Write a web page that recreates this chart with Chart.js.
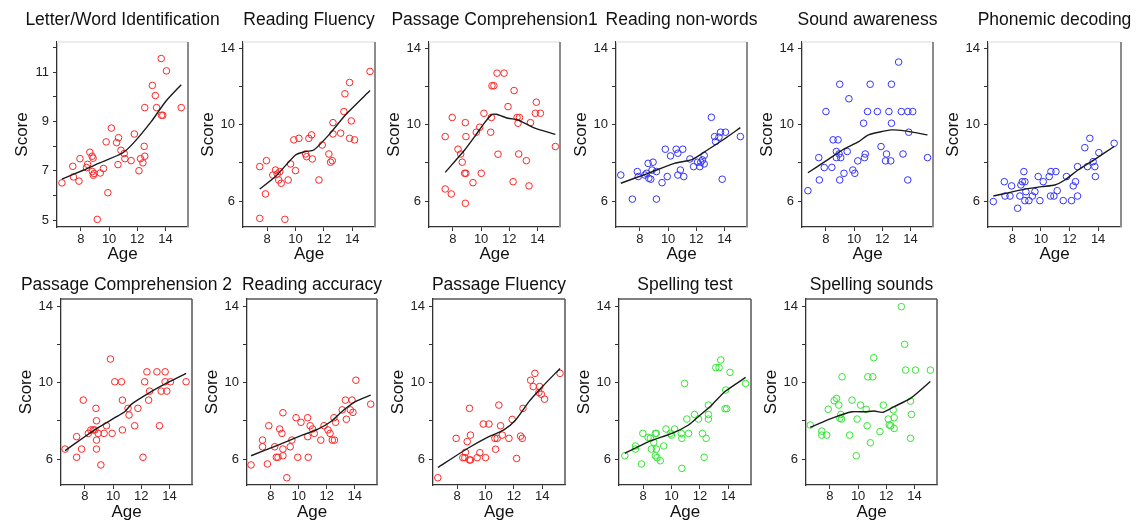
<!DOCTYPE html>
<html>
<head>
<meta charset="utf-8">
<script src="https://cdn.jsdelivr.net/npm/chart.js@4.4.1/dist/chart.umd.min.js"></script>
<style>
  html, body { margin: 0; padding: 0; background: #fff; }
  body { position: relative; width: 1139px; height: 524px; overflow: hidden; }
  .panel { position: absolute; }
</style>
</head>
<body>
<script>
// ---- tick values ----
const ageTicks = [8, 10, 12, 14];
const scoreTicks = [6, 8, 10, 12, 14];
const scoreTickLabels = [6, 10, 14];
const letterWordTicks = [5, 6, 7, 8, 9, 10, 11, 12];
const letterWordTickLabels = [5, 7, 9, 11];

const panelTitles = [
  'Letter/Word Identification', 'Reading Fluency', 'Passage Comprehension1',
  'Reading non-words', 'Sound awareness', 'Phonemic decoding',
  'Passage Comprehension 2', 'Reading accuracy', 'Passage Fluency',
  'Spelling test', 'Spelling sounds'
];

// ---- observations [age, score] and smoothed trend [age, score] ----
const letterWordPts = [[6.65,6.51],[7.42,7.18],[7.47,6.75],[7.86,6.58],[7.93,7.49],[8.40,7.13],[8.47,7.26],[8.63,7.75],[8.79,7.59],[8.86,7.51],[8.81,6.97],[8.93,6.89],[8.88,6.82],[9.16,5.03],[9.37,6.91],[9.60,7.09],[9.79,8.17],[9.91,6.11],[10.16,8.73],[10.53,8.14],[10.67,8.34],[10.63,7.25],[10.84,7.83],[11.07,7.70],[11.12,7.49],[11.56,7.41],[11.79,8.49],[12.12,7.00],[12.23,7.49],[12.40,7.32],[12.49,7.99],[12.53,7.59],[12.53,9.56],[13.07,10.46],[13.28,10.05],[13.37,9.56],[13.70,11.55],[13.72,9.25],[13.81,9.25],[14.07,11.05],[15.12,9.56]];
const letterWordFit = [[6.65,6.66],[8.16,7.02],[9.33,7.32],[10.95,7.72],[11.77,8.15],[13.0,9.0],[14.0,9.8],[15.12,10.49]];

const readingFluencyPts = [[7.48,7.80],[7.48,5.09],[7.88,6.37],[7.95,8.11],[8.40,7.36],[8.59,7.62],[8.71,7.41],[8.89,7.54],[8.82,7.10],[8.99,6.93],[9.25,5.04],[9.48,7.10],[9.65,7.94],[10.00,7.59],[9.88,9.20],[10.24,9.28],[10.71,8.46],[10.78,8.32],[10.94,9.28],[11.13,9.46],[11.18,8.20],[11.65,7.10],[11.88,8.93],[12.35,8.46],[12.47,8.03],[12.59,8.11],[12.64,10.10],[12.64,9.51],[13.18,9.55],[13.41,10.68],[13.48,11.61],[13.81,12.20],[13.81,9.28],[13.93,10.19],[14.16,9.20],[15.25,12.78]];
const readingFluencyFit = [[7.48,6.63],[8.59,7.28],[10.0,8.41],[10.71,8.59],[11.29,8.67],[12.35,9.46],[13.53,10.51],[15.25,11.78]];

const passageComp1Pts = [[7.45,9.37],[7.45,6.63],[7.88,6.37],[7.95,10.37],[8.36,8.71],[8.55,8.46],[8.66,8.03],[8.83,7.45],[8.92,7.45],[8.88,10.10],[8.92,9.37],[8.88,5.88],[9.42,6.96],[9.66,9.60],[9.90,9.86],[10.01,7.45],[10.20,10.59],[10.68,9.60],[10.73,10.37],[10.77,12.03],[10.91,12.03],[11.13,12.69],[11.20,8.45],[11.63,12.69],[11.91,10.94],[12.27,7.01],[12.34,11.78],[12.55,10.37],[12.62,10.07],[12.67,8.46],[12.72,10.37],[13.21,8.11],[13.40,6.79],[13.50,10.10],[13.85,10.59],[13.92,11.17],[14.21,10.59],[15.27,8.85]];
const passageComp1Fit = [[7.45,7.50],[8.83,8.67],[9.54,9.37],[10.25,10.10],[10.73,10.51],[11.08,10.54],[11.91,10.33],[12.62,10.24],[13.81,9.81],[15.27,9.49]];

const nonWordsPts = [[6.64,7.36],[7.46,6.10],[7.81,7.54],[7.88,7.28],[8.35,7.36],[8.47,7.45],[8.58,7.97],[8.63,7.19],[8.77,7.14],[8.86,7.62],[8.93,8.03],[9.17,7.54],[9.17,6.10],[9.57,6.96],[9.80,8.71],[9.94,7.28],[10.17,8.36],[10.57,8.71],[10.69,8.50],[10.69,7.36],[10.87,7.62],[11.04,8.71],[11.11,7.28],[11.55,8.20],[11.81,7.80],[12.09,8.03],[12.25,7.80],[12.32,8.03],[12.44,8.15],[12.56,8.38],[12.56,7.94],[13.07,10.38],[13.30,9.37],[13.37,9.11],[13.61,9.34],[13.72,9.60],[13.84,7.14],[14.07,9.60],[15.13,9.37]];
const nonWordsFit = [[6.64,6.93],[8.58,7.45],[10.45,7.97],[11.74,8.18],[12.79,8.67],[13.96,9.23],[15.13,9.84]];

const soundAwarePts = [[6.72,6.54],[7.49,8.27],[7.53,7.10],[7.88,7.75],[8.00,10.68],[8.42,7.76],[8.51,9.20],[8.74,8.59],[8.86,9.20],[8.74,8.27],[8.98,12.11],[8.98,7.10],[8.93,8.46],[9.05,8.27],[9.28,7.45],[9.51,8.59],[9.63,11.35],[9.91,7.62],[10.05,7.45],[10.26,8.10],[10.67,10.07],[10.74,8.27],[10.79,8.46],[10.95,10.68],[11.14,12.11],[11.65,10.68],[11.91,8.85],[12.30,8.46],[12.23,8.10],[12.47,10.68],[12.60,8.10],[12.65,10.07],[12.65,12.11],[13.16,13.27],[13.35,10.68],[13.47,8.46],[13.81,10.68],[13.81,7.10],[13.88,9.60],[14.16,10.68],[15.21,8.27]];
const soundAwareFit = [[6.72,7.48],[8.0,8.10],[9.16,8.67],[10.33,9.11],[11.02,9.46],[12.65,9.72],[13.58,9.67],[15.21,9.46]];

const phonemicPts = [[6.67,5.97],[7.44,7.01],[7.49,6.26],[7.84,6.26],[7.95,6.79],[8.37,5.62],[8.53,6.26],[8.60,6.84],[8.70,7.01],[8.81,7.54],[8.88,7.01],[8.88,6.02],[8.95,6.49],[9.16,6.02],[9.40,6.26],[9.58,6.49],[9.81,7.28],[9.93,6.02],[10.16,7.01],[10.58,7.28],[10.70,7.54],[10.67,6.26],[10.91,6.26],[11.05,7.54],[11.14,6.54],[11.56,6.02],[11.79,7.28],[12.14,6.02],[12.26,6.79],[12.42,7.01],[12.56,6.26],[12.56,7.80],[13.07,8.79],[13.26,7.80],[13.42,9.28],[13.65,8.06],[13.77,7.80],[13.81,7.28],[14.05,8.53],[15.12,9.02]];
const phonemicFit = [[6.67,6.26],[8.65,6.58],[10.05,6.75],[10.98,6.84],[11.67,7.10],[12.60,7.62],[13.77,8.18],[15.12,8.85]];

const passageComp2Pts = [[6.59,6.52],[7.41,7.17],[7.41,6.09],[7.76,6.52],[7.88,9.08],[8.24,7.34],[8.42,7.52],[8.59,7.52],[8.71,7.52],[8.78,8.65],[8.82,8.00],[8.82,6.99],[8.82,6.52],[8.94,7.34],[9.13,5.69],[9.36,7.34],[9.53,7.74],[9.81,11.23],[9.93,7.34],[10.12,10.04],[10.59,10.04],[10.66,9.08],[10.66,7.52],[11.06,8.65],[11.13,8.30],[11.53,7.74],[11.76,8.65],[12.12,6.09],[12.24,10.04],[12.40,10.56],[12.52,9.08],[12.59,9.55],[13.11,10.56],[13.29,7.74],[13.41,9.55],[13.69,10.56],[13.69,10.04],[13.81,9.55],[14.07,10.04],[15.18,10.04]];
const passageComp2Fit = [[6.59,6.44],[7.88,7.11],[8.94,7.64],[10.12,8.16],[10.82,8.47],[11.29,8.86],[12.59,9.47],[13.76,9.95],[15.18,10.48]];

const readingAccPts = [[6.59,5.69],[7.41,6.99],[7.41,6.64],[7.76,5.74],[7.86,7.74],[8.28,6.64],[8.40,6.09],[8.52,6.09],[8.64,7.57],[8.80,7.34],[8.87,8.42],[8.87,6.52],[8.87,6.17],[9.15,5.02],[9.39,6.64],[9.51,6.99],[9.81,8.16],[9.93,6.09],[10.16,7.92],[10.64,8.16],[10.64,7.17],[10.68,6.09],[10.82,7.74],[10.99,7.57],[11.11,7.34],[11.58,6.99],[11.81,7.74],[12.09,7.52],[12.24,7.34],[12.40,6.99],[12.52,8.16],[12.56,6.99],[12.64,7.92],[13.11,8.57],[13.34,9.08],[13.41,8.08],[13.69,8.57],[13.81,9.08],[13.88,8.44],[14.09,10.12],[15.15,8.87]];
const readingAccFit = [[6.59,6.17],[8.52,6.73],[10.16,7.22],[11.34,7.55],[12.28,7.95],[13.22,8.56],[14.05,9.0],[15.15,9.34]];

const passageFluencyPts = [[6.64,5.02],[7.93,7.08],[8.40,6.07],[8.54,6.07],[8.59,6.35],[8.71,6.91],[8.87,8.65],[8.87,5.95],[8.94,7.25],[8.94,5.95],[9.41,6.07],[9.60,6.33],[9.84,7.83],[10.00,6.07],[10.24,7.83],[10.66,7.08],[10.71,6.51],[10.82,7.08],[10.94,8.82],[11.06,7.74],[11.18,7.25],[11.65,7.08],[11.88,8.07],[12.19,6.03],[12.47,7.20],[12.59,7.08],[12.64,8.65],[13.18,10.12],[13.36,9.79],[13.48,10.48],[13.81,9.79],[13.76,9.48],[13.93,9.39],[14.16,9.13],[15.25,10.48]];
const passageFluencyFit = [[6.64,5.56],[8.82,6.59],[10.0,7.08],[11.29,7.52],[12.12,8.04],[13.06,9.0],[14.0,9.78],[15.25,10.74]];

const spellingTestPts = [[6.71,6.17],[7.46,6.68],[7.46,6.52],[7.88,5.74],[7.98,7.34],[8.35,7.13],[8.51,7.08],[8.58,6.52],[8.75,6.87],[8.86,7.34],[8.93,7.34],[8.86,6.17],[8.93,6.52],[8.98,6.07],[9.21,5.91],[9.45,6.68],[9.61,7.57],[9.92,7.34],[9.99,7.25],[10.22,7.57],[10.69,7.34],[10.73,7.08],[10.73,5.51],[10.92,9.95],[11.08,8.09],[11.20,7.34],[11.62,8.33],[11.90,8.09],[12.18,7.34],[12.30,6.09],[12.44,7.08],[12.60,8.33],[12.60,8.82],[12.60,8.09],[13.12,10.78],[13.35,10.78],[13.47,11.18],[13.77,8.63],[13.89,8.63],[13.82,9.61],[14.12,10.53],[15.22,9.95]];
const spellingTestFit = [[6.71,6.30],[8.40,6.91],[10.03,7.34],[11.20,7.78],[11.90,8.22],[12.84,8.83],[13.77,9.53],[15.22,10.27]];

const spellingSoundsPts = [[6.60,7.78],[7.42,7.46],[7.42,7.25],[7.77,7.25],[7.88,8.60],[8.30,9.05],[8.47,9.17],[8.63,8.82],[8.70,8.13],[8.77,8.33],[8.82,8.09],[8.86,10.30],[9.40,7.25],[9.57,9.08],[9.87,6.17],[9.93,8.09],[10.17,8.82],[10.57,8.60],[10.64,7.74],[10.69,10.30],[10.87,6.85],[11.04,10.30],[11.11,11.30],[11.55,7.43],[11.79,8.82],[12.14,8.09],[12.21,7.78],[12.32,7.74],[12.49,8.57],[12.56,8.16],[12.56,7.60],[13.07,13.97],[13.30,12.00],[13.37,10.65],[13.72,7.08],[13.72,9.03],[13.79,8.33],[14.07,10.65],[15.13,10.65]];
const spellingSoundsFit = [[6.60,7.66],[8.12,8.13],[9.57,8.47],[10.45,8.47],[11.15,8.51],[11.74,8.44],[12.56,8.74],[13.72,9.17],[15.13,10.05]];

// ---- which series goes in which panel ----
const panelSeries = [
  [letterWordPts, letterWordFit], [readingFluencyPts, readingFluencyFit], [passageComp1Pts, passageComp1Fit],
  [nonWordsPts, nonWordsFit], [soundAwarePts, soundAwareFit], [phonemicPts, phonemicFit],
  [passageComp2Pts, passageComp2Fit], [readingAccPts, readingAccFit], [passageFluencyPts, passageFluencyFit],
  [spellingTestPts, spellingTestFit], [spellingSoundsPts, spellingSoundsFit]
];

// ---- page layout (plot-area edges in page pixels) ----
const panelLayout = [
  { row: 0, left: 57,  right: 188, color: '#ff2626' },
  { row: 0, left: 243, right: 375, color: '#ff2626' },
  { row: 0, left: 429, right: 560, color: '#ff2626' },
  { row: 0, left: 616, right: 747, color: '#3333ff' },
  { row: 0, left: 802, right: 933, color: '#3333ff' },
  { row: 0, left: 988, right: 1121, color: '#3333ff' },
  { row: 1, left: 61,  right: 192, color: '#ff2626' },
  { row: 1, left: 247, right: 377, color: '#ff2626' },
  { row: 1, left: 433, right: 565, color: '#ff2626' },
  { row: 1, left: 619, right: 751, color: '#33e633' },
  { row: 1, left: 806, right: 937, color: '#33e633' }
];

const rowStyle = [
  { top: 0,   height: 265, titlePad: { top: 9.5, bottom: 11.5 }, xAxisH: 38, xTickPad: 1, agePad: 0, frameTop: '#ececec', frameRight: '#8c8c8c', frameW: 2,   yMax: 14.32 },
  { top: 265, height: 259, titlePad: { top: 9.5, bottom: 3.5 },  xAxisH: 39, xTickPad: 0, agePad: 1, frameTop: '#555555', frameRight: '#555555', frameW: 1.5, yMax: 14.37 }
];

const FONT = '"Liberation Sans", Arial, Helvetica, sans-serif';
const AXIS_W = 57;
const AXIS_COLOR = '#333';

// top and right edges of the plotting box
const framePlugin = {
  id: 'frame',
  beforeDatasetsDraw(chart, args, opts) {
    const { ctx, chartArea: a } = chart;
    ctx.save();
    ctx.lineWidth = opts.width;
    ctx.strokeStyle = opts.top;
    ctx.beginPath(); ctx.moveTo(a.left, a.top); ctx.lineTo(a.right, a.top); ctx.stroke();
    ctx.strokeStyle = opts.right;
    ctx.beginPath(); ctx.moveTo(a.right, a.top); ctx.lineTo(a.right, a.bottom); ctx.stroke();
    ctx.restore();
  }
};

function toXY(arr) { return arr.map(([x, y]) => ({ x, y })); }

panelLayout.forEach((p, i) => {
  const rs = rowStyle[p.row];
  const isLW = i === 0;
  const yTicks = isLW ? letterWordTicks : scoreTicks;
  const yLabels = isLW ? letterWordTickLabels : scoreTickLabels;
  const yMin = isLW ? 4.72 : 4.64;
  const yMax = isLW ? 12.22 : rs.yMax;
  const [pts, fit] = panelSeries[i];

  const width = (p.right - p.left) + 2 * AXIS_W;
  const div = document.createElement('div');
  div.className = 'panel';
  div.style.left = (p.left - AXIS_W) + 'px';
  div.style.top = rs.top + 'px';
  div.style.width = width + 'px';
  div.style.height = rs.height + 'px';
  const canvas = document.createElement('canvas');
  canvas.width = width;
  canvas.height = rs.height;
  div.appendChild(canvas);
  document.body.appendChild(div);

  new Chart(canvas, {
    type: 'scatter',
    data: {
      datasets: [
        {
          data: toXY(fit),
          showLine: true,
          borderColor: '#1a1a1a',
          borderWidth: 1.4,
          pointRadius: 0,
          tension: 0.2,
          fill: false
        },
        {
          data: toXY(pts),
          pointStyle: 'circle',
          pointRadius: 3.3,
          borderWidth: 1,
          borderColor: p.color,
          backgroundColor: 'rgba(0,0,0,0)',
          showLine: false
        }
      ]
    },
    options: {
      responsive: false,
      animation: false,
      devicePixelRatio: 1,
      events: [],
      layout: { padding: 0 },
      plugins: {
        legend: { display: false },
        tooltip: { enabled: false },
        title: {
          display: true,
          text: panelTitles[i],
          color: '#111',
          font: { family: FONT, size: 17.5, weight: 'normal', lineHeight: 1.2 },
          padding: rs.titlePad
        },
        frame: { top: rs.frameTop, right: rs.frameRight, width: rs.frameW }
      },
      scales: {
        x: {
          type: 'linear',
          min: 6.3,
          max: 15.6,
          afterBuildTicks: s => { s.ticks = ageTicks.map(v => ({ value: v })); },
          afterFit: s => { s.height = rs.xAxisH; },
          grid: { display: true, drawOnChartArea: false, drawTicks: true, tickLength: 4, color: AXIS_COLOR, lineWidth: 1 },
          border: { display: true, color: AXIS_COLOR, width: 1.3 },
          ticks: { color: '#222', font: { family: FONT, size: 13 }, padding: rs.xTickPad, autoSkip: false, maxRotation: 0, callback: v => String(v) },
          title: { display: true, text: 'Age', color: '#111', font: { family: FONT, size: 17, lineHeight: 1.2 }, padding: { top: 0, bottom: rs.agePad } }
        },
        y: {
          type: 'linear',
          min: yMin,
          max: yMax,
          afterBuildTicks: s => { s.ticks = yTicks.map(v => ({ value: v })); },
          afterFit: s => { s.width = AXIS_W; },
          grid: { display: true, drawOnChartArea: false, drawTicks: true, tickLength: 4, color: AXIS_COLOR, lineWidth: 1 },
          border: { display: true, color: AXIS_COLOR, width: 1.3 },
          ticks: { color: '#222', font: { family: FONT, size: 13 }, padding: 4, autoSkip: false, callback: v => yLabels.includes(v) ? String(v) : '' },
          title: { display: true, text: 'Score', color: '#111', font: { family: FONT, size: 17, lineHeight: 1.2 }, padding: { top: 12, bottom: 0 } }
        },
        // empty right-hand margin so the panel title centres over the plot
        yMargin: {
          type: 'linear',
          position: 'right',
          display: true,
          afterFit: s => { s.width = AXIS_W; },
          grid: { display: false },
          border: { display: false },
          ticks: { display: false }
        }
      }
    },
    plugins: [framePlugin]
  });
});
</script>
</body>
</html>
